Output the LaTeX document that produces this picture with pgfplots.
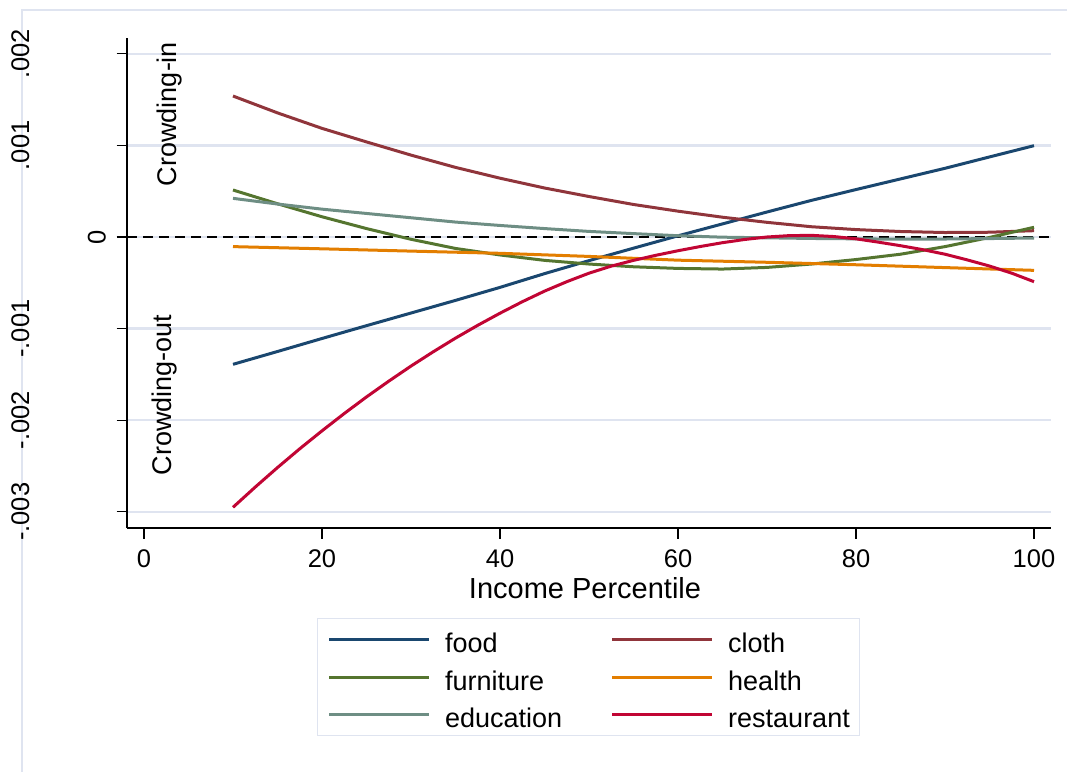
\documentclass[border=0pt]{standalone}
\usepackage{fontspec}
\setmainfont{Liberation Sans}
\usepackage{graphicx}
\usepackage{pgfplots}
\pgfplotsset{compat=1.18}
\definecolor{cnavy}{RGB}{26,71,111}
\definecolor{cmaroon}{RGB}{144,53,59}
\definecolor{cforest}{RGB}{85,117,47}
\definecolor{corange}{RGB}{227,126,0}
\definecolor{cteal}{RGB}{110,142,132}
\definecolor{ccran}{RGB}{193,5,52}
\definecolor{gridcol}{RGB}{223,228,240}

\pgfplotstableread{
x y
10 -0.001390
15 -0.001250
20 -0.001108
25 -0.000968
30 -0.000830
35 -0.000692
40 -0.000550
45 -0.000400
50 -0.000258
55 -0.000122
60 0.000013
65 0.000143
70 0.000273
75 0.000400
80 0.000518
85 0.000634
90 0.000750
95 0.000874
100 0.000997
}\food

\pgfplotstableread{
x y
10 0.001539
15 0.001355
20 0.001186
25 0.001038
30 0.000894
35 0.000760
40 0.000642
45 0.000535
50 0.000442
55 0.000355
60 0.000282
65 0.000216
70 0.000160
75 0.000112
80 0.000081
85 0.000060
90 0.000049
95 0.000052
100 0.000069
}\cloth

\pgfplotstableread{
x y
10 0.000513
15 0.000363
20 0.000221
25 0.000092
30 -0.000025
35 -0.000125
40 -0.000196
45 -0.000255
50 -0.000295
55 -0.000325
60 -0.000343
65 -0.000350
70 -0.000332
75 -0.000295
80 -0.000246
85 -0.000188
90 -0.000105
95 -0.000005
100 0.000106
}\furniture

\pgfplotstableread{
x y
10 -0.000105
20 -0.000129
30 -0.000154
40 -0.000178
50 -0.000212
60 -0.000253
70 -0.000276
80 -0.000303
90 -0.000334
100 -0.000364
}\health

\pgfplotstableread{
x y
10 0.000422
15 0.000360
20 0.000304
25 0.000257
30 0.000210
35 0.000163
40 0.000126
45 0.000092
50 0.000061
55 0.000037
60 0.000014
65 -0.000002
70 -0.000009
75 -0.000016
80 -0.000020
85 -0.000024
90 -0.000022
95 -0.000017
100 -0.000011
}\education

\pgfplotstableread{
x y
10 -0.002951
12.5 -0.002730
15 -0.002517
17.5 -0.002312
20 -0.002116
22.5 -0.001927
25 -0.001746
27.5 -0.001574
30 -0.001409
32.5 -0.001253
35 -0.001104
37.5 -0.000964
40 -0.000832
42.5 -0.000707
45 -0.000591
47.5 -0.000488
50 -0.000395
52.5 -0.000318
55 -0.000255
57.5 -0.000200
60 -0.000150
62.5 -0.000104
65 -0.000062
67.5 -0.000027
70 0.000000
72.5 0.000015
75 0.000018
77.5 0.000005
80 -0.000020
82.5 -0.000056
85 -0.000095
87.5 -0.000138
90 -0.000188
92.5 -0.000250
95 -0.000317
97.5 -0.000395
100 -0.000488
}\restaurant

\begin{document}
\begin{tikzpicture}[x=1pt,y=1pt]
\draw[gridcol, line width=1.5pt] (22,0) -- (22,762) -- (1067,762);
\begin{axis}[
  at={(127pt,244pt)}, anchor=south west,
  width=924pt, height=490pt, scale only axis,
  xmin=-1.910, xmax=101.910,
  ymin=-0.0031769, ymax=0.0021725,
  clip=false,
  axis x line*=bottom, axis y line*=left,
  axis line style={line width=1.2pt, black},
  tick align=outside, major tick length=10.5pt,
  tick style={line width=1.2pt, black},
  xtick={0,20,40,60,80,100},
  ytick={-0.003,-0.002,-0.001,0.001,0.002},
  yticklabels={{\rotatebox{90}{-.003}},{\rotatebox{90}{-.002}},{\rotatebox{90}{-.001}},{\rotatebox{90}{.001}},{\rotatebox{90}{.002}}},
  extra y ticks={0},
  extra y tick labels={{\rotatebox{90}{0}}},
  extra y tick style={grid=major, yticklabel style={xshift=76.5pt}},
  scaled y ticks=false,
  ymajorgrids,
  grid style={line width=2.5pt, gridcol},
  /pgf/number format/assume math mode=true,
  yticklabel style={font=\fontsize{25.5}{30}\selectfont, inner sep=0pt, anchor=east, xshift=-87pt},
  xticklabel style={font=\fontsize{25.5}{30}\selectfont, inner sep=0pt, anchor=north, yshift=-10.5pt},
  xlabel={Income Percentile},
  xlabel style={font=\fontsize{29}{34}\selectfont, inner sep=0pt, at={(axis description cs:0.4957,0)}, anchor=base, yshift=-70pt},
  legend columns=2,
  legend cell align=left,
  legend image code/.code={\draw[#1, line width=3pt] (0pt,0pt) -- (100pt,0pt);},
  legend style={
    at={(axis description cs:0.2056,-0.1837)}, anchor=north west,
    draw=gridcol, line width=1.3pt,
    inner xsep=10pt, inner ysep=8pt,
    font=\fontsize{27}{32}\selectfont,
    column sep=14.5pt, row sep=11.5pt,
    nodes={inner sep=0pt, text height=26pt, text depth=0pt},
    /tikz/every even column/.append style={column sep=48.5pt},
  },
]
\addplot[black, line width=1.3pt, dash pattern=on 10pt off 6pt, forget plot] coordinates {(-1.910,0) (101.910,0)};
\addplot[cnavy, line width=3pt] table[x=x,y=y] {\food};
\addlegendentry{food}
\addplot[cmaroon, line width=3pt] table[x=x,y=y] {\cloth};
\addlegendentry{cloth}
\addplot[cforest, line width=3pt] table[x=x,y=y] {\furniture};
\addlegendentry{furniture}
\addplot[corange, line width=3pt] table[x=x,y=y] {\health};
\addlegendentry{health}
\addplot[cteal, line width=3pt] table[x=x,y=y] {\education};
\addlegendentry{education}
\addplot[ccran, line width=3pt] table[x=x,y=y] {\restaurant};
\addlegendentry{restaurant}
\node[rotate=90, inner sep=0pt, font=\fontsize{27}{32}\selectfont] at (axis cs:2.92,0.001343) {Crowding-in};
\node[rotate=90, inner sep=0pt, font=\fontsize{27}{32}\selectfont] at (axis cs:2.36,-0.001725) {Crowding-out};
\end{axis}
\pgfresetboundingbox
\useasboundingbox (0,0) rectangle (1067,772);
\end{tikzpicture}
\end{document}
